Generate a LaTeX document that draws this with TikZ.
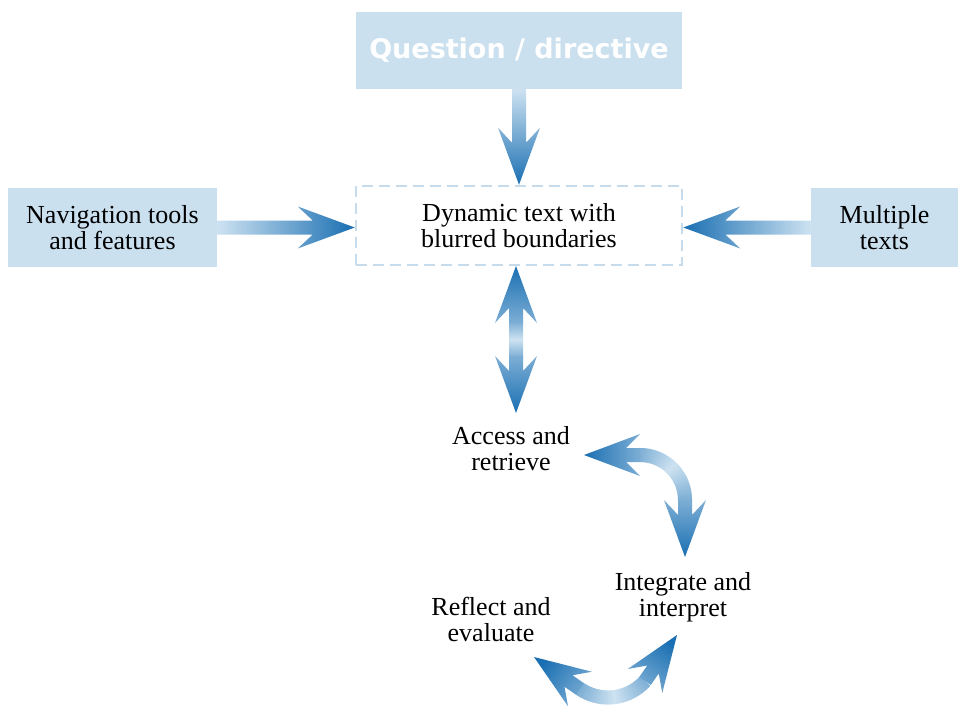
\documentclass[tikz,border=0pt]{standalone}
\usepackage{fontspec}
\setmainfont{Liberation Serif}
\newfontfamily\titlefont{DejaVu Sans}
\usetikzlibrary{calc}
\definecolor{blueD}{HTML}{1A6FB2}
\definecolor{blueL}{HTML}{CDE2F1}
\definecolor{boxc}{HTML}{CBE0EF}
\definecolor{dashc}{HTML}{C6DCEC}
\colorlet{blueM}{blueD!45!blueL}
% full single arrow: #1 tail, #2 tip, #3 shading angle
\newcommand\fullarrow[3]{%
  \coordinate (fa-j) at ($(#2)!42pt!(#1)$);
  \coordinate (fa-b) at ($(#2)!57pt!(#1)$);
  \shade[top color=blueD, bottom color=blueL, shading angle=#3]
    ($(#1)!7pt!90:(#2)$) -- ($(fa-j)!7pt!90:(#2)$) -- ($(fa-b)!21pt!90:(#2)$) -- (#2)
    -- ($(fa-b)!21pt!-90:(#2)$) -- ($(fa-j)!7pt!-90:(#2)$) -- ($(#1)!7pt!-90:(#2)$) -- cycle;}
% arrow head: #1 base, #2 tip, #3 shading angle
\newcommand\arrhead[3]{%
  \coordinate (ah-j) at ($(#2)!42pt!(#1)$);
  \shade[top color=blueD, bottom color=blueM, shading angle=#3]
    ($(#1)!7pt!90:(#2)$) -- ($(ah-j)!7pt!90:(#2)$) -- ($(#1)!21pt!90:(#2)$) -- (#2)
    -- ($(#1)!21pt!-90:(#2)$) -- ($(ah-j)!7pt!-90:(#2)$) -- ($(#1)!7pt!-90:(#2)$) -- cycle;}
\tikzset{
  box/.style={fill=boxc, inner sep=0pt, align=center},
  lbl/.style={align=center, inner sep=0pt, font=\fontsize{26}{26}\selectfont, text=black},
}
\begin{document}
\begin{tikzpicture}[x=1pt, y=-1pt]
\useasboundingbox[fill=white] (0,0) rectangle (958,706);

% nodes
\node[box, minimum width=326pt, minimum height=77pt, text=white,
      font=\titlefont\bfseries\fontsize{27}{30}\selectfont] (q) at (519,50.5) {Question / directive};
\node[lbl, draw=dashc, line width=2.5pt, dash pattern=on 11pt off 6pt,
      minimum width=326pt, minimum height=79pt] (dyn) at (519,225.5) {Dynamic text with\\blurred boundaries};
\node[box, lbl, minimum width=209pt, minimum height=79pt] (nav) at (112.5,227.5) {Navigation tools\\and features};
\node[box, lbl, minimum width=147pt, minimum height=79pt] (mul) at (884.5,227.5) {Multiple\\texts};
\node[lbl] (acc) at (511,449) {Access and\\retrieve};
\node[lbl] (int) at (683,597) {Integrate and\\interpret};
\node[lbl] (ref) at (491,619) {Reflect and\\evaluate};

% straight arrows
\coordinate (dtip) at (q.south |- dyn.north);
\fullarrow{q.south}{dtip}{180}
\coordinate (rtip) at (nav.east -| dyn.west);
\fullarrow{nav.east}{rtip}{-90}
\coordinate (ltip) at (mul.west -| dyn.east);
\fullarrow{mul.west}{ltip}{90}

% vertical double arrow
\coordinate (vt) at (516,266);
\coordinate (vtb) at (516,323);
\coordinate (vb) at (516,413);
\coordinate (vbb) at (516,356);
\shade[top color=blueM, bottom color=blueM, middle color=blueL] (509,322) rectangle (523,357);
\arrhead{vtb}{vt}{0}
\arrhead{vbb}{vb}{180}

% curved arrow access <-> integrate
\foreach \i in {0,...,35}{
  \pgfmathsetmacro\aa{-90+90*\i/36}
  \pgfmathsetmacro\bb{-90+90*(\i+1)/36+0.8}
  \pgfmathtruncatemacro\pc{45*abs((\aa+\bb)/2+45)/45}
  \draw[line width=14pt, blueD!\pc!blueL] plot[domain=\aa:\bb, samples=3] ({640+45*cos(\x)},{500+45*sin(\x)});
}
\coordinate (c1b) at (640,455);
\coordinate (c1t) at (584,455);
\coordinate (c2b) at (685,500);
\coordinate (c2t) at (685,557);
\arrhead{c1b}{c1t}{90}
\arrhead{c2b}{c2t}{180}

% curved arrow reflect <-> integrate
\foreach \i in {0,...,35}{
  \pgfmathsetmacro\aa{42.1+81.8*\i/36}
  \pgfmathsetmacro\bb{42.1+81.8*(\i+1)/36+0.8}
  \pgfmathtruncatemacro\pc{45*abs((\aa+\bb)/2-83)/41}
  \draw[line width=14pt, blueD!\pc!blueL] plot[domain=\aa:\bb, samples=3] ({608+50*cos(\x)},{647.5+50*sin(\x)});
}
\coordinate (c3b) at (580,689);
\coordinate (c3t) at (534,657);
\coordinate (c4b) at (645,681);
\coordinate (c4t) at (677,635);
\arrhead{c3b}{c3t}{55.2}
\arrhead{c4b}{c4t}{-34.8}
\end{tikzpicture}
\end{document}
